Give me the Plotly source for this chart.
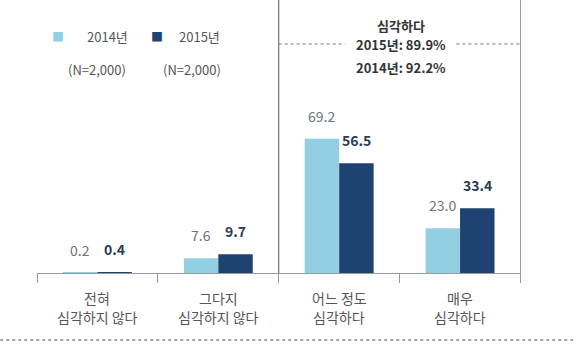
import plotly.graph_objects as go

cat_line1 = ["전혀", "그다지", "어느 정도", "매우"]
cat_line2 = ["심각하지 않다", "심각하지 않다", "심각하다", "심각하다"]
categories = [a + " " + b for a, b in zip(cat_line1, cat_line2)]
values_2014 = [0.2, 7.6, 69.2, 23.0]
values_2015 = [0.4, 9.7, 56.5, 33.4]
labels_2014 = ["0.2", "7.6", "69.2", "23.0"]
labels_2015 = ["0.4", "9.7", "56.5", "33.4"]
series_names = ["2014년", "2015년"]
series_notes = ["(N=2,000)", "(N=2,000)"]
summary_lines = ["심각하다", "2015년: 89.9%", "2014년: 92.2%"]

C_LIGHT = "#93cfe2"
C_DARK = "#1e4272"
FONT = "Noto Sans CJK KR"

fig = go.Figure()
fig.add_trace(go.Bar(x=categories, y=values_2014, name=series_names[0],
                     marker=dict(color=C_LIGHT, line=dict(width=0))))
fig.add_trace(go.Bar(x=categories, y=values_2015, name=series_names[1],
                     marker=dict(color=C_DARK, line=dict(width=0))))

annotations = []
for c, v, t in zip(categories, values_2014, labels_2014):
    annotations.append(dict(x=c, y=v, xref="x", yref="y", text=t, showarrow=False,
                            xshift=-17.5, yshift=11, xanchor="center", yanchor="bottom",
                            font=dict(family=FONT, size=14, color="#6a7480")))
for c, v, t in zip(categories, values_2015, labels_2015):
    annotations.append(dict(x=c, y=v, xref="x", yref="y", text="<b>" + t + "</b>", showarrow=False,
                            xshift=17.5, yshift=11, xanchor="center", yanchor="bottom",
                            font=dict(family=FONT, size=14, color="#2b3a55")))

# category labels (two lines each)
for c, l1, l2 in zip(categories, cat_line1, cat_line2):
    annotations.append(dict(x=c, y=-0.092, xref="x", yref="paper", text=l1, showarrow=False,
                            xanchor="center", yanchor="middle",
                            font=dict(family=FONT, size=14, color="#555555")))
    annotations.append(dict(x=c, y=-0.161, xref="x", yref="paper", text=l2, showarrow=False,
                            xanchor="center", yanchor="middle",
                            font=dict(family=FONT, size=14, color="#555555")))

# legend (custom)
leg = [(0.043, 0.145, 0.124, C_LIGHT, 0), (0.248, 0.335, 0.320, C_DARK, 1)]
for sx, tx, nx, col, i in leg:
    annotations.append(dict(x=sx, y=0.866, xref="paper", yref="paper", text="■", showarrow=False,
                            xanchor="center", yanchor="middle",
                            font=dict(family=FONT, size=12, color=col)))
    annotations.append(dict(x=tx, y=0.866, xref="paper", yref="paper", text=series_names[i], showarrow=False,
                            xanchor="center", yanchor="middle",
                            font=dict(family=FONT, size=13, color="#555555")))
    annotations.append(dict(x=nx, y=0.745, xref="paper", yref="paper", text=series_notes[i], showarrow=False,
                            xanchor="center", yanchor="middle",
                            font=dict(family=FONT, size=13, color="#555555")))

# summary text
for yy, t in zip([0.908, 0.838, 0.752], summary_lines):
    annotations.append(dict(x=0.752, y=yy, xref="paper", yref="paper", text="<b>" + t + "</b>", showarrow=False,
                            xanchor="center", yanchor="middle",
                            font=dict(family=FONT, size=13, color="#333333")))

shapes = [
    dict(type="line", xref="x", yref="paper", x0=1.5, x1=1.5, y0=0, y1=1.0,
         line=dict(color="#555555", width=1)),
    dict(type="line", xref="x", yref="paper", x0=3.5, x1=3.5, y0=0, y1=1.0,
         line=dict(color="#999999", width=1)),
    dict(type="line", xref="x", yref="paper", x0=1.5, x1=2.05, y0=0.839, y1=0.839,
         line=dict(color="#777777", width=1, dash="dot")),
    dict(type="line", xref="x", yref="paper", x0=2.97, x1=3.5, y0=0.839, y1=0.839,
         line=dict(color="#777777", width=1, dash="dot")),
    dict(type="line", xref="paper", yref="paper", x0=-0.076, x1=1.11, y0=-0.245, y1=-0.245,
         line=dict(color="#888888", width=1.5, dash="dot")),
]

fig.update_layout(
    width=584, height=349,
    margin=dict(l=37, r=63, t=0, b=76),
    paper_bgcolor="white", plot_bgcolor="white",
    barmode="group", bargap=0.43, bargroupgap=0,
    showlegend=False,
    annotations=annotations, shapes=shapes,
    font=dict(family=FONT),
)
fig.update_xaxes(showline=True, linecolor="#999999", linewidth=1,
                 ticks="outside", tickson="boundaries", ticklen=9, tickcolor="#999999",
                 showticklabels=False, showgrid=False)
fig.update_yaxes(range=[0, 140.7], visible=False, showgrid=False)

fig.write_html("out.html")
